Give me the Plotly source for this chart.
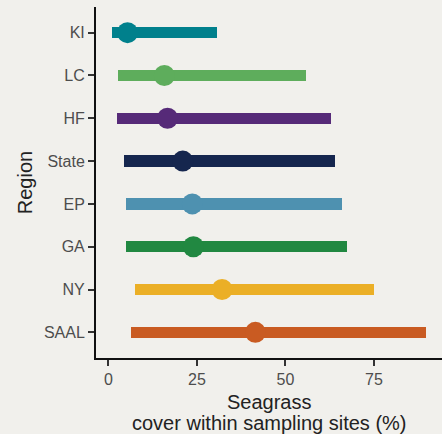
import plotly.graph_objects as go

# Regions listed top to bottom
regions = ["KI", "LC", "HF", "State", "EP", "GA", "NY", "SAAL"]
low = [0.9, 2.8, 2.5, 4.3, 4.9, 4.9, 7.4, 6.3]
high = [30.6, 55.9, 62.9, 63.9, 66.0, 67.4, 75.1, 89.8]
median = [5.4, 15.8, 16.7, 21.0, 23.7, 24.0, 32.1, 41.5]
colors = ["#00808C", "#5EAD5C", "#562A78", "#15264E",
          "#4E91B0", "#218841", "#EBAF26", "#C95B22"]
x_ticks = [0, 25, 50, 75]
x_title_lines = ["Seagrass", "cover within sampling sites (%)"]

bg = "#F1F0EC"
fig = go.Figure()

# range bars from low to high
fig.add_trace(go.Bar(
    y=regions,
    x=[h - l for h, l in zip(high, low)],
    base=low,
    orientation="h",
    width=0.27,
    marker=dict(color=colors, line=dict(width=0)),
    hoverinfo="skip",
    showlegend=False,
))

# median points
fig.add_trace(go.Scatter(
    y=regions,
    x=median,
    mode="markers",
    marker=dict(color=colors, size=21, line=dict(width=0)),
    showlegend=False,
))

fig.update_layout(
    width=442,
    height=434,
    margin=dict(l=96, r=0, t=7, b=76),
    paper_bgcolor=bg,
    plot_bgcolor=bg,
    font=dict(family="Liberation Sans, Arial, sans-serif", color="#222222"),
    bargap=0,
)

# two-line x axis title with tight line spacing
for line, shift in zip(x_title_lines, [-44, -65]):
    fig.add_annotation(
        text=line, xref="paper", yref="paper", x=0.5, y=0,
        xanchor="center", yanchor="middle", yshift=shift,
        showarrow=False, font=dict(size=20, color="#222222"),
    )

fig.update_xaxes(
    range=[-3.5, 94.2],
    tickvals=x_ticks,
    ticktext=[str(t) for t in x_ticks],
    showgrid=False,
    zeroline=False,
    showline=True,
    linecolor="#111111",
    linewidth=2,
    ticks="outside",
    ticklen=6,
    tickwidth=2,
    tickcolor="#333333",
    tickfont=dict(size=16, color="#4D4D4D"),
)

fig.update_yaxes(
    type="category",
    categoryorder="array",
    categoryarray=regions[::-1],
    range=[-0.6, 7.6],
    showgrid=False,
    zeroline=False,
    showline=True,
    linecolor="#111111",
    linewidth=2,
    ticks="outside",
    ticklen=6,
    tickwidth=2,
    tickcolor="#333333",
    tickfont=dict(size=16, color="#4D4D4D"),
    title=dict(text="Region", font=dict(size=20, color="#222222"), standoff=6),
)

fig.write_html("out.html")
